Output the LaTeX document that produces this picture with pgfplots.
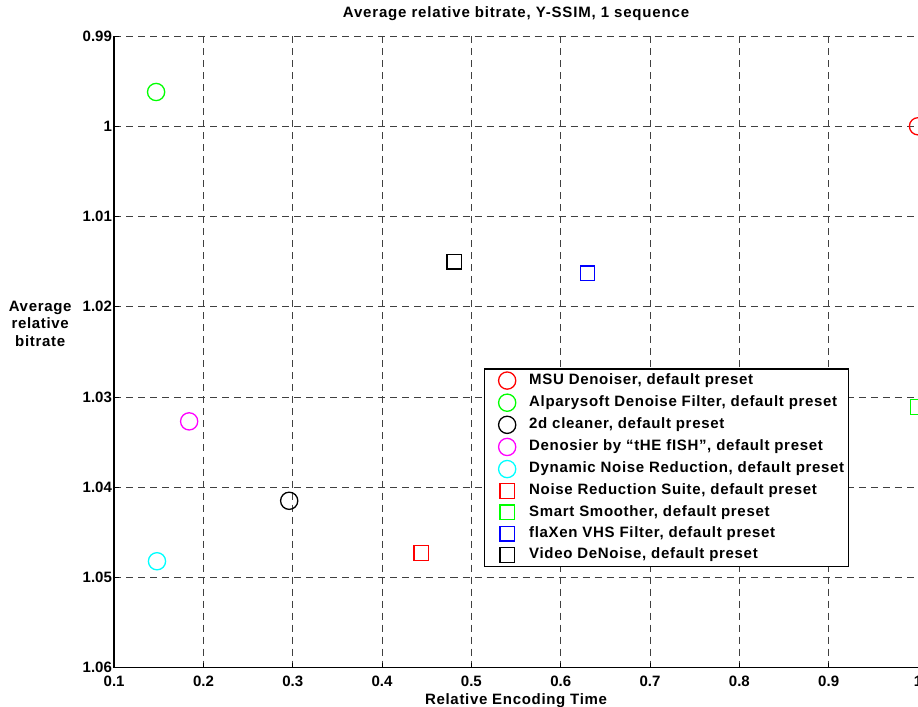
\documentclass[border=0pt]{standalone}
\usepackage{fontspec}
\setmainfont{Liberation Sans}
\newfontfamily\spaced[LetterSpace=4.5]{Liberation Sans}
\newfontfamily\spacedt[LetterSpace=5.5]{Liberation Sans}
\usepackage{pgfplots}
\pgfplotsset{compat=1.18}
\definecolor{mred}{RGB}{255,0,0}
\definecolor{mgreen}{RGB}{0,255,0}
\definecolor{mblue}{RGB}{0,0,255}
\definecolor{mmagenta}{RGB}{255,0,255}
\definecolor{mcyan}{RGB}{0,255,255}
\pgfplotsset{mk/.style={only marks, line width=1.3pt,
   legend image code/.code={\path[draw=none,fill=none] (0pt,0pt) (41pt,0pt); \draw[##1, only marks] plot coordinates {(20pt,0pt)};}}}
\begin{document}
\begin{tikzpicture}
\useasboundingbox (-114pt,-39pt) rectangle (803pt,667pt);
\begin{axis}[
 at={(0pt,0pt)}, anchor=south west,
 scale only axis, width=803pt, height=631pt,
 xmin=0.1, xmax=1, ymin=0.99, ymax=1.06, y dir=reverse,
 axis x line=bottom, axis y line=left,
 axis line style={-, line width=1.3pt},
 xtick={0.1,0.2,0.3,0.4,0.5,0.6,0.7,0.8,0.9,1},
 xticklabels={0.1,0.2,0.3,0.4,0.5,0.6,0.7,0.8,0.9,1},
 ytick={0.99,1,1.01,1.02,1.03,1.04,1.05,1.06},
 yticklabels={0.99,1,1.01,1.02,1.03,1.04,1.05,1.06},
 tick align=inside, major tick length=5pt,
 tick style={black, line width=1pt},
 grid=major,
 grid style={dash pattern=on 7pt off 5pt, black!75, line width=0.9pt},
 tick label style={font=\bfseries\fontsize{15}{17}\selectfont},
 xticklabel style={anchor=base, yshift=-19pt},
 yticklabel style={inner xsep=2pt},
 title={\spacedt\bfseries\fontsize{15}{17}\selectfont Average relative bitrate, Y-SSIM, 1 sequence},
 title style={at={(axis description cs:0.5,1)}, anchor=base, yshift=13pt},
 xlabel={\spaced\bfseries\fontsize{15}{17}\selectfont Relative Encoding Time},
 xlabel style={at={(axis description cs:0.5,0)}, anchor=base, yshift=-37pt},
 ylabel={Average\\relative\\bitrate},
 every axis y label/.style={at={(axis description cs:-0.092,0.545)}, anchor=center, align=center, font=\spaced\bfseries\fontsize{15}{17.5}\selectfont},
 legend cell align=left,
 legend style={at={(axis description cs:0.4595,0.474)}, anchor=north west, draw=black, line width=1.3pt, font=\spaced\bfseries\fontsize{15}{17}\selectfont, inner sep=3pt, row sep=4.9pt, nodes={inner sep=1pt, text height=11pt, text depth=3.5pt}},
]
\addplot[mk, mred, mark=o, mark size=8.6pt] coordinates {(1.0,1.0)};
\addlegendentry{MSU Denoiser, default preset}
\addplot[mk, mgreen, mark=o, mark size=8.6pt] coordinates {(0.147,0.9962)};
\addlegendentry{Alparysoft Denoise Filter, default preset}
\addplot[mk, black, mark=o, mark size=8.6pt] coordinates {(0.296,1.0415)};
\addlegendentry{2d cleaner, default preset}
\addplot[mk, mmagenta, mark=o, mark size=8.6pt] coordinates {(0.184,1.0327)};
\addlegendentry{Denosier by “tHE fISH”, default preset}
\addplot[mk, mcyan, mark=o, mark size=8.6pt] coordinates {(0.148,1.0482)};
\addlegendentry{Dynamic Noise Reduction, default preset}
\addplot[mk, mred, mark=square, mark size=7.3pt] coordinates {(0.444,1.0473)};
\addlegendentry{Noise Reduction Suite, default preset}
\addplot[mk, mgreen, mark=square, mark size=7.3pt] coordinates {(1.0,1.0311)};
\addlegendentry{Smart Smoother, default preset}
\addplot[mk, mblue, mark=square, mark size=7.3pt] coordinates {(0.630,1.0163)};
\addlegendentry{flaXen VHS Filter, default preset}
\addplot[mk, black, mark=square, mark size=7.3pt] coordinates {(0.481,1.0150)};
\addlegendentry{Video DeNoise, default preset}
\end{axis}
\end{tikzpicture}
\end{document}
